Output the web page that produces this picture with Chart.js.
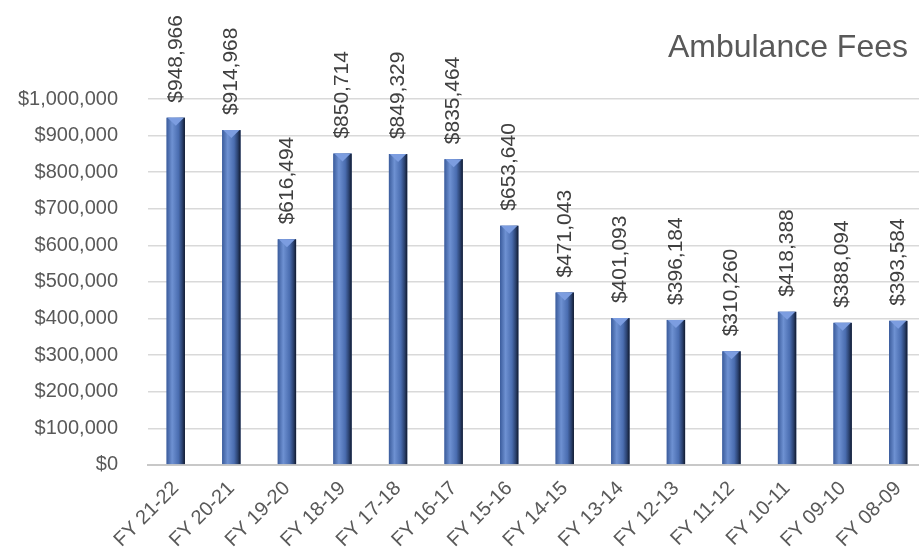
<!DOCTYPE html>
<html>
<head>
<meta charset="utf-8">
<script src="https://cdn.jsdelivr.net/npm/chart.js@4/dist/chart.umd.min.js"></script>
<style>
  html, body { margin: 0; padding: 0; background: #fff; overflow: hidden; }
  #wrap { position: relative; width: 919px; height: 558px; overflow: hidden; }
  #box { position: absolute; left: 0; top: 0; width: 926px; height: 558px; }
  #title { position: absolute; right: 11px; top: 30px; font: 32px "Liberation Sans", Arial, sans-serif; color: #595959; line-height: 1; }
</style>
</head>
<body>
<div id="wrap">
  <div id="box"><canvas id="chart"></canvas></div>
  <div id="title">Ambulance Fees</div>
</div>
<script>
const years = ['FY 21-22', 'FY 20-21', 'FY 19-20', 'FY 18-19', 'FY 17-18', 'FY 16-17', 'FY 15-16',
               'FY 14-15', 'FY 13-14', 'FY 12-13', 'FY 11-12', 'FY 10-11', 'FY 09-10', 'FY 08-09']
const fees = [948966, 914968, 616494, 850714, 849329, 835464, 653640,
              471043, 401093, 396184, 310260, 418388, 388094, 393584]
const yMax = 1000000
const yStep = 100000

const money = v => '$' + Number(v).toLocaleString('en-US')
const FONT = '"Liberation Sans", Arial, sans-serif'

// shaded cylinder look + value labels over each bar
const barLook = {
    id: 'barLook',
    afterDatasetsDraw(chart) {
        const ctx = chart.ctx
        const meta = chart.getDatasetMeta(0)
        meta.data.forEach((bar, i) => {
            const p = bar.getProps(['x', 'y', 'base', 'width'], true)
            const left = p.x - p.width / 2
            const right = p.x + p.width / 2
            const g = ctx.createLinearGradient(left, 0, right, 0)
            g.addColorStop(0, '#3b5c9c')
            g.addColorStop(0.3, '#6e91d2')
            g.addColorStop(0.65, '#4a6db0')
            g.addColorStop(0.85, '#2b4270')
            g.addColorStop(1, '#111a2e')
            ctx.save()
            ctx.fillStyle = g
            ctx.fillRect(left, p.y, p.width, p.base - p.y)
            ctx.beginPath()
            ctx.moveTo(left + 1, p.y)
            ctx.lineTo(right - 1, p.y)
            ctx.lineTo(p.x, p.y + 8)
            ctx.closePath()
            ctx.fillStyle = '#7c9de0'
            ctx.fill()
            // label
            ctx.translate(p.x, p.y - 15)
            ctx.rotate(-Math.PI / 2)
            ctx.font = '21px ' + FONT
            ctx.fillStyle = '#404040'
            ctx.textAlign = 'left'
            ctx.textBaseline = 'middle'
            ctx.fillText(money(fees[i]), 0, 0)
            ctx.restore()
        })
    }
}

new Chart(document.getElementById('chart'), {
    type: 'bar',
    data: {
        labels: years,
        datasets: [{
            data: fees,
            backgroundColor: '#4a6cae',
            categoryPercentage: 1,
            barPercentage: 0.33
        }]
    },
    options: {
        responsive: true,
        maintainAspectRatio: false,
        animation: false,
        layout: { padding: { top: 99, left: 18, right: 0, bottom: 2 } },
        plugins: { legend: { display: false }, tooltip: { enabled: false } },
        scales: {
            x: {
                grid: { display: false },
                border: { color: '#c8c8c8', width: 2 },
                afterFit: scale => { scale.paddingLeft = 0 },
                ticks: {
                    color: '#595959', font: { family: FONT, size: 20 },
                    minRotation: 45, maxRotation: 45, padding: 4
                }
            },
            y: {
                min: 0, max: yMax,
                border: { display: false },
                grid: { color: '#d9d9d9', lineWidth: 1.5, drawTicks: false, tickLength: 0 },
                afterFit: scale => { scale.width = 130 },
                ticks: {
                    stepSize: yStep, color: '#595959', padding: 30,
                    font: { family: FONT, size: 20 },
                    callback: v => money(v)
                }
            }
        }
    },
    plugins: [barLook]
})
</script>
</body>
</html>
